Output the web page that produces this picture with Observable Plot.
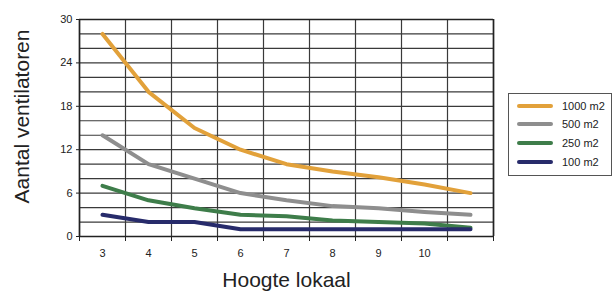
<!DOCTYPE html>
<html><head><meta charset="utf-8">
<script src="https://cdn.jsdelivr.net/npm/d3@7"></script>
<script src="https://cdn.jsdelivr.net/npm/@observablehq/plot@0.6"></script>
<style>
body{margin:0;background:#fff;}
#wrap{position:relative;width:614px;height:295px;font-family:"Liberation Sans",Arial,sans-serif;}
#legend{position:absolute;left:508px;top:93px;width:104px;height:83px;border:1px solid #555;box-sizing:border-box;background:#fff;}
.row{position:absolute;left:8px;height:18px;display:flex;align-items:center;font-size:11px;color:#222;}
.sw{width:36px;height:4px;border-radius:2px;margin-right:9px;}
</style>
</head><body>
<div id="wrap"><div id="legend"></div></div>
<script>
const heights = [3,4,5,6,7,8,9,10,11];
const tickLabels = [3,4,5,6,7,8,9,10];
const yTicks = [0,6,12,18,24,30];
const series = ["1000 m2","500 m2","250 m2","100 m2"];
const v1000 = [28,20,15,12,10,9,8.2,7.2,6];
const v500 = [14,10,8,6,5,4.2,3.9,3.4,3];
const v250 = [7,5,3.9,3,2.8,2.2,2,1.8,1.2];
const v100 = [3,2,2,1,1,1,1,1,1];
const colors = ["#E2A13A","#8E8E8E","#3E7D4A","#272B6B"];

const valuesBySeries = [v1000, v500, v250, v100];
const rows = [];
series.forEach((s, i) => heights.forEach((h, j) => rows.push({serie: s, h, v: valuesBySeries[i][j]})));

const font = '"Liberation Sans",Arial,sans-serif';
const chart = Plot.plot({
  width: 614, height: 295,
  marginLeft: 79, marginRight: 121, marginTop: 19, marginBottom: 59,
  x: {domain: [2.5, 11.5]},
  y: {domain: [0, 30]},
  color: {domain: series, range: colors},
  style: {fontFamily: font, fontSize: "11px", color: "#222", background: "#fff"},
  marks: [
    Plot.gridY(d3.range(0, 31, 2), {stroke: "#3a3a3a", strokeOpacity: 1, strokeWidth: 1.2}),
    Plot.gridX(d3.range(2.5, 12, 1), {stroke: "#3a3a3a", strokeOpacity: 1, strokeWidth: 1.2}),
    Plot.axisX(d3.range(2.5, 12, 1), {tickSize: 5, text: null, stroke: "#222", label: null}),
    Plot.axisX(tickLabels, {tickSize: 0, tickPadding: 13, label: null, fill: "#222"}),
    Plot.axisY(yTicks, {tickSize: 3, tickPadding: 4, label: null, stroke: "#222", fill: "#222"}),
    Plot.ruleY([0, 30], {stroke: "#222", strokeWidth: 1.6}),
    Plot.ruleX([2.5, 11.5], {stroke: "#222", strokeWidth: 1.6}),
    Plot.line(rows, {x: "h", y: "v", z: "serie", stroke: "serie", strokeWidth: 4, strokeLinecap: "round", strokeLinejoin: "round"}),
    Plot.text(["Hoogte lokaal"], {frameAnchor: "bottom", dy: 50, fontSize: 21, fill: "#222"}),
    Plot.text(["Aantal ventilatoren"], {frameAnchor: "left", textAnchor: "middle", dx: -57, dy: -11.5, rotate: -90, fontSize: 21, fill: "#222"})
  ]
});
document.getElementById("wrap").prepend(chart);

const legend = document.getElementById("legend");
const rowTops = [3, 21, 40, 59];
series.forEach((s, i) => {
  const r = document.createElement("div");
  r.className = "row";
  r.style.top = rowTops[i] + "px";
  r.innerHTML = `<span class="sw" style="background:${colors[i]}"></span><span>${s}</span>`;
  legend.appendChild(r);
});
</script>
</body></html>
